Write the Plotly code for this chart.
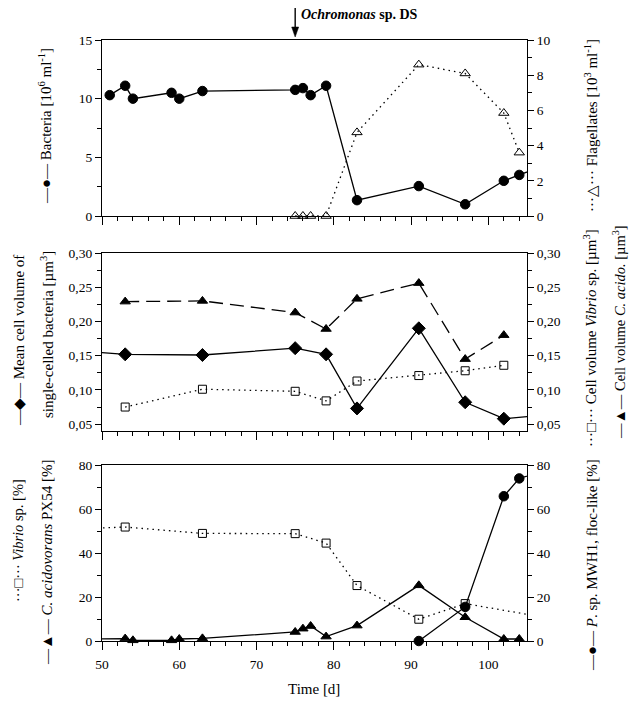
import plotly.graph_objects as go

# ---------------- data ----------------
# top panel
bacteria_day = [51, 53, 54, 59, 60, 63, 75, 76, 77, 79, 83, 91, 97, 102, 104, 106]
bacteria = [10.3, 11.1, 10.0, 10.5, 10.0, 10.65, 10.75, 10.9, 10.3, 11.1, 1.35, 2.55, 1.0, 3.0, 3.5, 4.0]
flag_day = [75, 76, 77, 79, 83, 91, 97, 102, 104]
flagellates = [0, 0, 0, 0, 4.75, 8.6, 8.1, 5.85, 3.6]

# middle panel
meanvol_day = [48, 53, 63, 75, 79, 83, 91, 97, 102, 107]
mean_volume = [0.156, 0.152, 0.151, 0.161, 0.152, 0.073, 0.190, 0.082, 0.058, 0.063]
vibvol_day = [53, 63, 75, 79, 83, 91, 97, 102]
vibrio_volume = [0.075, 0.101, 0.098, 0.084, 0.113, 0.121, 0.128, 0.136]
acivol_day = [53, 63, 75, 79, 83, 91, 97, 102]
acido_volume = [0.229, 0.230, 0.213, 0.189, 0.233, 0.256, 0.145, 0.180]

# bottom panel
vibpct_day = [48, 53, 63, 75, 79, 83, 91, 97, 107]
vibrio_pct = [51.1, 51.8, 48.9, 48.8, 44.5, 25.2, 9.9, 17.0, 10.9]
acipct_day = [48, 53, 54, 59, 60, 63, 75, 76, 77, 79, 83, 91, 97, 102, 104]
acido_pct = [0.9, 1.1, 0.3, 0.3, 0.9, 1.2, 4.1, 5.6, 6.8, 2.0, 7.0, 25.3, 10.8, 0.9, 0.9]
psp_day = [91, 97, 102, 104, 106]
psp_pct = [0, 15.5, 65.8, 73.9, 76.0]

# ticks
x_range = [50, 105]
top_left_ticks = [0, 5, 10, 15]
top_right_ticks = [0, 2, 4, 6, 8, 10]
mid_ticks = [0.05, 0.10, 0.15, 0.20, 0.25, 0.30]
mid_ticklabels = ["0,05", "0,10", "0,15", "0,20", "0,25", "0,30"]
bot_ticks = [0, 20, 40, 60, 80]
ochromonas_day = 75

# ---------------- layout helpers ----------------
# the page body has an 8px default margin, so the figure is drawn 8px in from the window edge
OFF = 8
W, H = 637 - OFF, 704 - OFF
L, T = 102 - OFF, 40 - OFF
PW, PH = 425, 601
R, B = W - L - PW, H - T - PH
FONT = "Liberation Serif, Times New Roman, serif"


def px(x):  # window pixel -> paper x
    return (x - OFF - L) / PW


def py(y):  # window pixel -> paper y
    return (T + PH - (y - OFF)) / PH


def inrange(days, vals):
    pts = [(d, v) for d, v in zip(days, vals) if x_range[0] <= d <= x_range[1]]
    return [p[0] for p in pts], [p[1] for p in pts]


fig = go.Figure()


def add_series(days, vals, xa, ya, dash, symbol, size, mlw=1.0):
    fig.add_trace(go.Scatter(x=days, y=vals, xaxis=xa, yaxis=ya, mode="lines",
                             line=dict(color="black", width=1.3, dash=dash),
                             showlegend=False, hoverinfo="skip"))
    mx, my = inrange(days, vals)
    fig.add_trace(go.Scatter(x=mx, y=my, xaxis=xa, yaxis=ya, mode="markers",
                             marker=dict(symbol=symbol, size=size, color="black",
                                         line=dict(color="black", width=mlw)),
                             cliponaxis=False, showlegend=False))


DOT = "1.5px,4px"
# top
add_series(bacteria_day, bacteria, "x3", "y5", "solid", "circle", 9.5)
add_series(flag_day, flagellates, "x3", "y6", DOT, "triangle-up-open", 9)
# middle
add_series(meanvol_day, mean_volume, "x2", "y3", "solid", "diamond", 10)
add_series(vibvol_day, vibrio_volume, "x2", "y4", DOT, "square-open", 8)
add_series(acivol_day, acido_volume, "x2", "y4", "14px,7px", "triangle-up", 9)
# bottom
add_series(vibpct_day, vibrio_pct, "x", "y", DOT, "square-open", 8)
add_series(acipct_day, acido_pct, "x", "y", "solid", "triangle-up", 9)
add_series(psp_day, psp_pct, "x", "y2", "solid", "circle", 9.5)

tickfont = dict(family=FONT, size=13.5, color="black")

Y_BOT = [0, py(465)]
Y_MID = [py(431), py(253)]
Y_TOP = [py(216), 1.0]


def xaxis(anchor, labels):
    return dict(range=x_range, anchor=anchor, domain=[0, 1], showline=True,
                linecolor="black", linewidth=1.4, mirror=True,
                ticks="outside", ticklen=8, tickwidth=1, tickcolor="black",
                tick0=50, dtick=10, showticklabels=labels, tickfont=tickfont,
                ticklabelstandoff=3,
                minor=dict(dtick=2, ticks="outside", ticklen=4, tickcolor="black", tickwidth=1),
                showgrid=False, zeroline=False)


def yaxis(domain, rng, tickvals, minor, anchor, side="left", overlay=None, ticktext=None):
    d = dict(range=rng, anchor=anchor, side=side, showline=True, linecolor="black",
             linewidth=1.2, ticks="outside", ticklen=6, tickwidth=1, tickcolor="black",
             tickmode="array", tickvals=tickvals, tickfont=tickfont,
             minor=dict(dtick=minor, tick0=0, ticks="outside", ticklen=4, tickcolor="black", tickwidth=1),
             showgrid=False, zeroline=False)
    if ticktext is not None:
        d["ticktext"] = ticktext
    if overlay:
        d["overlaying"] = overlay
    else:
        d["domain"] = domain
    return d


fig.update_layout(
    width=W, height=H, margin=dict(l=L, r=R, t=T, b=B),
    paper_bgcolor="white", plot_bgcolor="white",
    font=dict(family=FONT, color="black"),
    xaxis=xaxis("y", True),
    xaxis2=xaxis("y3", False),
    xaxis3=xaxis("y5", False),
    yaxis=yaxis(Y_BOT, [0, 80], bot_ticks, 10, "x"),
    yaxis2=yaxis(None, [0, 80], bot_ticks, 10, "x", side="right", overlay="y"),
    yaxis3=yaxis(Y_MID, [0.04, 0.30], mid_ticks, 0.025, "x2", ticktext=mid_ticklabels),
    yaxis4=yaxis(None, [0.04, 0.30], mid_ticks, 0.025, "x2", side="right", overlay="y3",
                 ticktext=mid_ticklabels),
    yaxis5=yaxis(Y_TOP, [0, 15], top_left_ticks, 2.5, "x3"),
    yaxis6=yaxis(None, [0, 10], top_right_ticks, 1, "x3", side="right", overlay="y5"),
)

lab = dict(family=FONT, size=15, color="black")


def rot(text, x, y, size=15):
    fig.add_annotation(text=text, x=px(x), y=py(y), xref="paper", yref="paper",
                       textangle=-90, showarrow=False,
                       font=dict(family=FONT, size=size, color="black"),
                       xanchor="center", yanchor="middle")


rot("—●— Bacteria [10<sup>6</sup> ml<sup>-1</sup>]", 45, 126)
rot("···△··· Flagellates [10<sup>3</sup> ml<sup>-1</sup>]", 591, 126)
rot("—◆— Mean cell volume of", 19, 341)
rot("single-celled bacteria [µm<sup>3</sup>]", 47, 334)
rot("···□··· Cell volume <i>Vibrio</i> sp. [µm<sup>3</sup>]", 590, 338)
rot("—▲— Cell volume <i>C. acido.</i> [µm<sup>3</sup>]", 619, 332, 14.5)
rot("···□··· <i>Vibrio</i> sp. [%]", 18, 541, 14.5)
rot("—▲— <i>C. acidovorans</i> PX54 [%]", 47, 563)
rot("—●— <i>P</i>. sp. MWH1, floc-like [%]", 592, 565)

fig.add_annotation(text="Time [d]", x=px(314), y=py(689), xref="paper", yref="paper",
                   showarrow=False, font=lab, xanchor="center", yanchor="middle")
fig.add_annotation(text="<b><i>Ochromonas</i> sp. DS</b>", x=px(299), y=py(14),
                   xref="paper", yref="paper", showarrow=False,
                   font=dict(family=FONT, size=14, color="black"),
                   xanchor="left", yanchor="middle")

# arrow marking the Ochromonas addition (shaft + head)
fig.add_shape(type="line", xref="x3", yref="paper", x0=ochromonas_day, x1=ochromonas_day,
              y0=py(6), y1=py(30), line=dict(color="black", width=1.4))
ax_px = L + OFF + (ochromonas_day - x_range[0]) / (x_range[1] - x_range[0]) * PW
fig.add_shape(type="path", xref="paper", yref="paper",
              path=f"M {px(ax_px - 3.5)} {py(27)} L {px(ax_px + 3.5)} {py(27)} L {px(ax_px)} {py(37)} Z",
              fillcolor="black", line=dict(color="black", width=0.5))

fig.write_html("out.html")
